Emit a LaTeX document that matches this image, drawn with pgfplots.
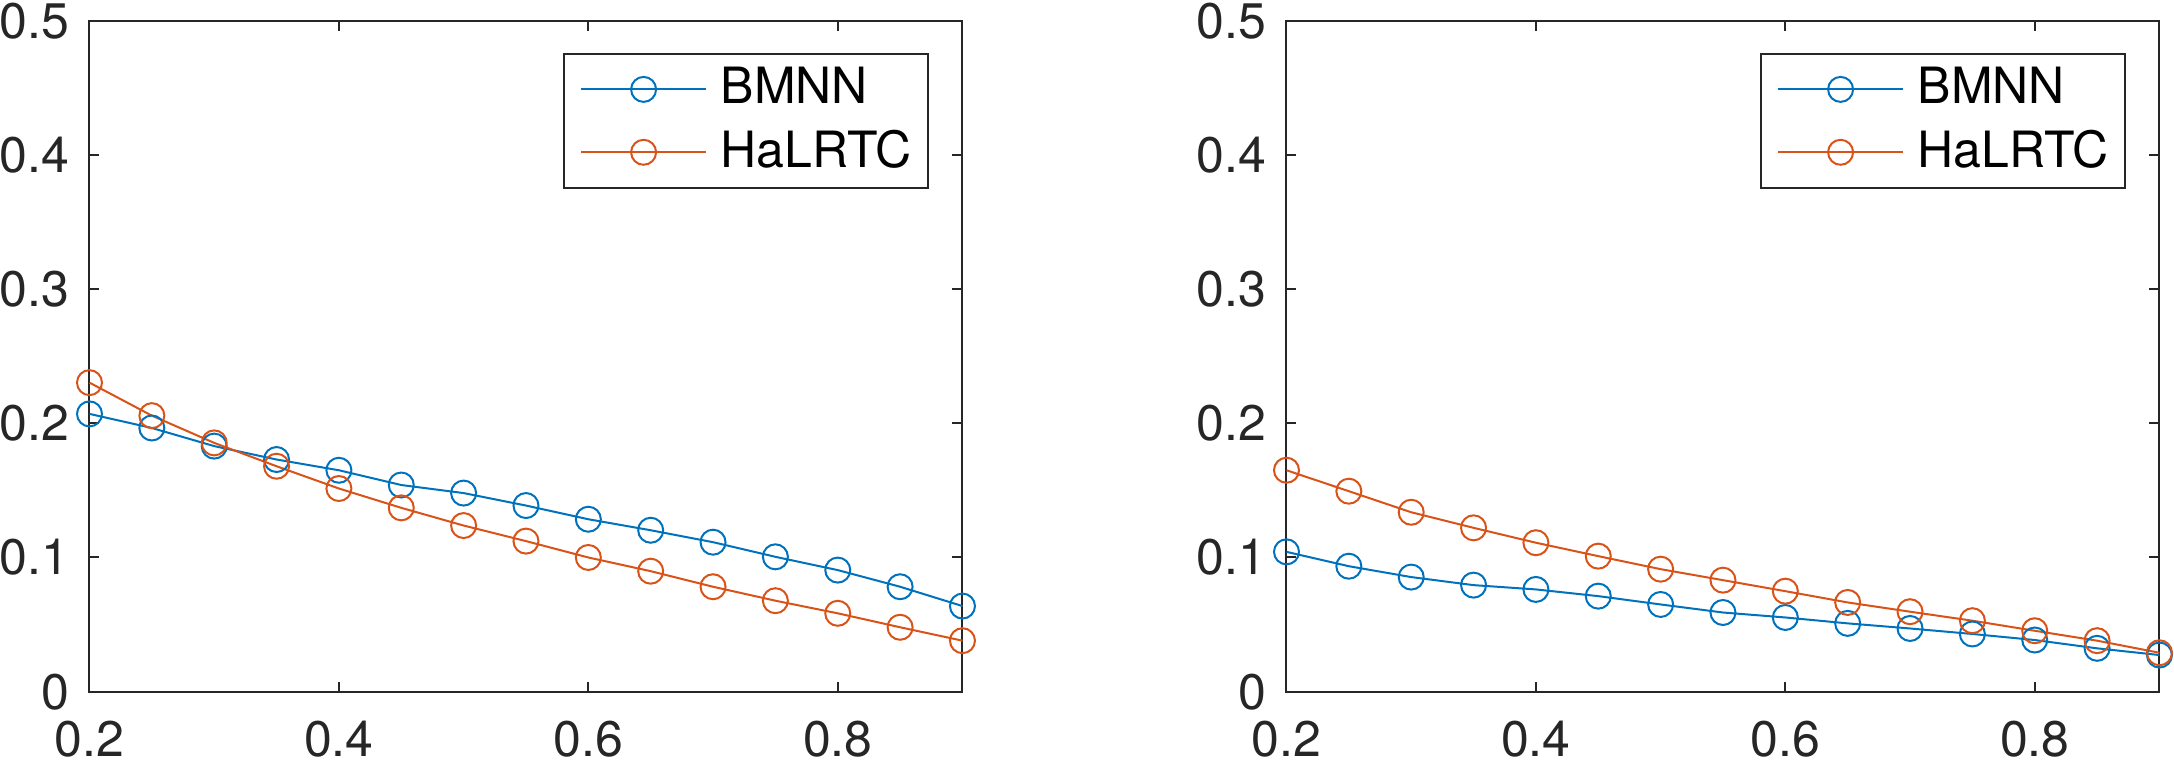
\documentclass[border=0pt]{standalone}
\usepackage{fontspec}
\setmainfont{TeX Gyre Heros}
\usepackage{pgfplots}
\usepackage{pgfplotstable}
\pgfplotsset{compat=1.18}
\definecolor{mblue}{rgb}{0,0.447,0.741}
\definecolor{morange}{rgb}{0.85,0.325,0.098}
\definecolor{axgray}{rgb}{0.15,0.15,0.15}

\pgfplotstableread{
x     bmnn    halrtc
0.20  0.2070  0.2303
0.25  0.1965  0.2057
0.30  0.1830  0.1854
0.35  0.1730  0.1680
0.40  0.1650  0.1514
0.45  0.1540  0.1370
0.50  0.1480  0.1238
0.55  0.1387  0.1122
0.60  0.1285  0.1000
0.65  0.1203  0.0898
0.70  0.1114  0.0782
0.75  0.1005  0.0678
0.80  0.0906  0.0584
0.85  0.0782  0.0480
0.90  0.0638  0.0380
}\lefttable

\pgfplotstableread{
x     bmnn    halrtc
0.20  0.1042  0.1650
0.25  0.0935  0.1494
0.30  0.0854  0.1337
0.35  0.0794  0.1221
0.40  0.0762  0.1110
0.45  0.0712  0.1010
0.50  0.0650  0.0913
0.55  0.0590  0.0831
0.60  0.0553  0.0749
0.65  0.0509  0.0665
0.70  0.0471  0.0596
0.75  0.0430  0.0529
0.80  0.0385  0.0454
0.85  0.0323  0.0380
0.90  0.0273  0.0290
}\righttable

\pgfplotsset{mystyle/.style={
  scale only axis, width=174.6pt, height=134.2pt,
  xmin=0.2, xmax=0.9, ymin=0, ymax=0.5,
  xtick={0.2,0.4,0.6,0.8}, ytick={0,0.1,0.2,0.3,0.4,0.5},
  tick align=inside, major tick length=2pt,
  axis line style={axgray, line width=0.4pt},
  tick style={axgray, line width=0.4pt},
  tick label style={font=\fontsize{10}{12}\selectfont, text=axgray},
  /pgf/number format/assume math mode=true,
  xticklabel style={inner sep=0pt, yshift=-5.6pt},
  yticklabel style={inner sep=0pt, xshift=-3.8pt},
  clip=false,
  legend style={at={(0.962,0.952)}, anchor=north east, draw=axgray, line width=0.4pt,
    font=\fontsize{10}{12}\selectfont, text=black, inner xsep=3.3pt, inner ysep=2.7pt,
    nodes={inner sep=0pt}, row sep=3.7pt, column sep=2.8pt},
  legend cell align=left,
  legend image code/.code={\draw[mark repeat=2,mark phase=2,##1] plot coordinates {(0pt,0pt) (12.45pt,0pt) (24.9pt,0pt)};},
  every axis plot/.append style={line width=0.4pt, mark=o, mark size=2.5pt, mark options={solid}},
}}

\begin{document}
\begin{tikzpicture}
\begin{axis}[mystyle, at={(0pt,0pt)}, anchor=south west]
\addplot[mblue] table[x=x,y=bmnn] {\lefttable};
\addplot[morange] table[x=x,y=halrtc] {\lefttable};
\legend{BMNN,HaLRTC}
\end{axis}
\begin{axis}[mystyle, at={(239.4pt,0pt)}, anchor=south west]
\addplot[mblue] table[x=x,y=bmnn] {\righttable};
\addplot[morange] table[x=x,y=halrtc] {\righttable};
\legend{BMNN,HaLRTC}
\end{axis}
\pgfresetboundingbox
\path (-17.9pt,-13.66pt) rectangle (416.9pt,138.34pt);
\end{tikzpicture}
\end{document}
